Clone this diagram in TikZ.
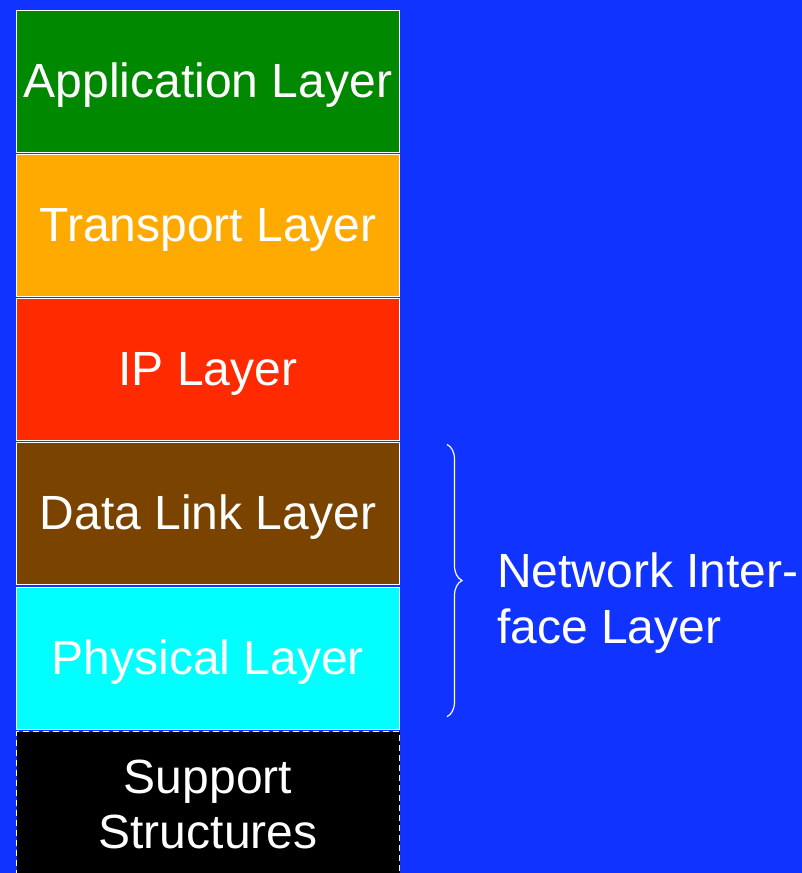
\documentclass[tikz,border=0pt]{standalone}
\usepackage{fontspec}
\setmainfont{Liberation Sans}
\usetikzlibrary{
  decorations.pathreplacing,
  positioning
}
\definecolor{bgblue}{RGB}{17,51,255}
\definecolor{appgreen}{RGB}{0,136,0}
\definecolor{transorange}{RGB}{255,170,0}
\definecolor{ipred}{RGB}{255,42,0}
\definecolor{linkbrown}{RGB}{122,68,0}
\definecolor{physcyan}{RGB}{0,255,255}
\tikzset{
  x = 1pt,
  y = 1pt,
  node distance = 1.3pt,
  layer/.style = {draw = white, line width = 1pt, minimum width = 383pt,
    minimum height = 142pt, text = white, align = center,
    font = \fontsize{48}{55}\selectfont},
  oneline/.style = {text height = 40pt, text depth = 8pt},
  every node/.style = {text = white},
}

\begin{document}
\begin{tikzpicture}
  \fill[bgblue] (0,0) rectangle (802,-873);
  \useasboundingbox (0,0) rectangle (802,-873);
  \node[layer, oneline, fill=appgreen, anchor=north] (app) at (208,-9.5) {Application Layer};
  \node[layer, oneline, fill=transorange, below=of app] (trans) {Transport Layer};
  \node[layer, oneline, fill=ipred, below=of trans] (ip) {IP Layer};
  \node[layer, oneline, fill=linkbrown, below=of ip] (link) {Data Link Layer};
  \node[layer, oneline, fill=physcyan, below=of link] (phys) {Physical Layer};
  \node[layer, fill=black, line width=1.4pt, dash pattern=on 6pt off 4pt,
        minimum height=146pt, below=of phys] (support) {Support\\Structures};
  \coordinate (bracetop) at ([xshift=47pt, yshift=-2pt]link.north east);
  \coordinate (bracebot) at ([xshift=47pt, yshift=13pt]phys.south east);
  \draw[white, line width=1.2pt, decorate, decoration={brace, amplitude=15pt}]
      (bracetop) -- (bracebot);
  \node[anchor=base west, align=left, inner sep=0pt,
        font=\fontsize{48}{56}\selectfont] (netif) at (497,-643) {Network Inter-\\face Layer};
\end{tikzpicture}
\end{document}
